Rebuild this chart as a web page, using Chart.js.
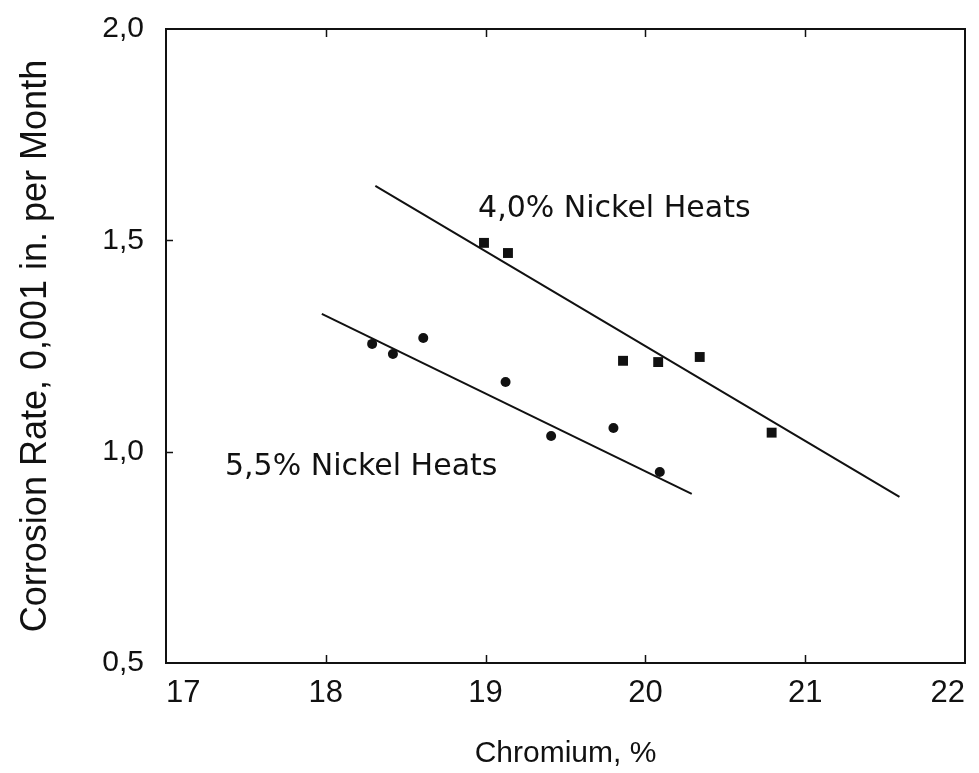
<!DOCTYPE html>
<html>
<head>
<meta charset="utf-8">
<title>Corrosion Rate vs Chromium</title>
<script src="https://cdn.jsdelivr.net/npm/chart.js@4/dist/chart.umd.min.js"></script>
<style>
  html, body { margin: 0; padding: 0; background: #fff; }
  #wrap { width: 979px; height: 773px; }
</style>
</head>
<body>
<div id="wrap"><canvas id="chart"></canvas></div>
<script>
// axis ticks
const xTicks = [17, 18, 19, 20, 21, 22];
const yTicks = [0.5, 1.0, 1.5, 2.0];

// 4,0% nickel heats (squares)
const cr40 = [18.99, 19.14, 19.86, 20.08, 20.34, 20.79];
const rate40 = [1.494, 1.470, 1.215, 1.212, 1.224, 1.045];

// 5,5% nickel heats (dots)
const cr55 = [18.29, 18.42, 18.61, 19.125, 19.41, 19.80, 20.09];
const rate55 = [1.255, 1.231, 1.269, 1.165, 1.037, 1.056, 0.952];

// fitted trend lines (end points)
const line40X = [18.31, 21.59];
const line40Y = [1.629, 0.893];
const line55X = [17.975, 20.29];
const line55Y = [1.326, 0.900];

// in-plot captions, anchored in data units (left edge, baseline)
const captions = [
  { text: '4,0% Nickel Heats', x: 18.953, y: 1.555 },
  { text: '5,5% Nickel Heats', x: 17.369, y: 0.945 }
];

const ink = '#111';
const pts = (xs, ys) => xs.map((x, i) => ({ x: x, y: ys[i] }));

// box around the plot, inward tick marks and the captions
const framePlugin = {
  id: 'frameAndCaptions',
  afterDraw(chart) {
    const { ctx, chartArea: a, scales } = chart;
    ctx.save();
    ctx.strokeStyle = ink;
    ctx.lineWidth = 2;
    ctx.strokeRect(a.left, a.top, a.right - a.left, a.bottom - a.top);

    ctx.lineWidth = 1.5;
    ctx.beginPath();
    xTicks.slice(1, -1).forEach(v => {
      const px = Math.round(scales.x.getPixelForValue(v)) + 0.5;
      ctx.moveTo(px, a.bottom); ctx.lineTo(px, a.bottom - 8);
      ctx.moveTo(px, a.top); ctx.lineTo(px, a.top + 8);
    });
    yTicks.slice(1, -1).forEach(v => {
      const py = Math.round(scales.y.getPixelForValue(v)) + 0.5;
      ctx.moveTo(a.left, py); ctx.lineTo(a.left + 7, py);
    });
    ctx.stroke();

    ctx.fillStyle = ink;
    ctx.font = '30px "DejaVu Sans"';
    ctx.textAlign = 'left';
    ctx.textBaseline = 'alphabetic';
    captions.forEach(c => {
      ctx.fillText(c.text, scales.x.getPixelForValue(c.x), scales.y.getPixelForValue(c.y));
    });
    ctx.restore();
  }
};

const ctx = document.getElementById('chart').getContext('2d');
new Chart(ctx, {
  type: 'scatter',
  data: {
    datasets: [
      {
        label: '4,0% Nickel Heats',
        data: pts(cr40, rate40),
        pointStyle: 'rect',
        pointRadius: 7,
        backgroundColor: ink,
        borderColor: ink,
        borderWidth: 0
      },
      {
        label: '5,5% Nickel Heats',
        data: pts(cr55, rate55),
        pointStyle: 'circle',
        pointRadius: 5,
        backgroundColor: ink,
        borderColor: ink,
        borderWidth: 0
      },
      {
        type: 'line',
        data: pts(line40X, line40Y),
        borderColor: ink,
        borderWidth: 2,
        pointRadius: 0,
        fill: false
      },
      {
        type: 'line',
        data: pts(line55X, line55Y),
        borderColor: ink,
        borderWidth: 2,
        pointRadius: 0,
        fill: false
      }
    ]
  },
  options: {
    responsive: true,
    maintainAspectRatio: false,
    animation: false,
    layout: { padding: { top: 29, right: 14, left: 0, bottom: 0 } },
    plugins: {
      legend: { display: false },
      tooltip: { enabled: false }
    },
    scales: {
      x: {
        type: 'linear',
        min: 17,
        max: 22,
        afterBuildTicks: s => { s.ticks = xTicks.map(v => ({ value: v })); },
        afterFit: s => { s.height = 110; s.paddingLeft = 0; s.paddingRight = 0; },
        grid: { display: false, drawTicks: false },
        border: { display: false },
        ticks: {
          align: 'inner',
          color: ink,
          padding: 12,
          font: { family: 'Liberation Sans', size: 31 }
        },
        title: {
          display: true,
          text: 'Chromium, %',
          color: ink,
          font: { family: 'Liberation Sans', size: 30 },
          padding: { top: 0, bottom: 1 }
        }
      },
      y: {
        type: 'linear',
        min: 0.5,
        max: 2.0,
        afterBuildTicks: s => { s.ticks = yTicks.map(v => ({ value: v })); },
        afterFit: s => { s.width = 166; s.paddingTop = 0; s.paddingBottom = 0; },
        grid: { display: false, drawTicks: false },
        border: { display: false },
        ticks: {
          color: ink,
          padding: 22,
          font: { family: 'Liberation Sans', size: 30 },
          callback: v => v.toFixed(1).replace('.', ',')
        },
        title: {
          display: true,
          text: 'Corrosion Rate, 0,001 in. per Month',
          color: ink,
          font: { family: 'Liberation Sans', size: 36 },
          padding: { top: 14, bottom: 0 }
        }
      }
    }
  },
  plugins: [framePlugin]
});
</script>
</body>
</html>
